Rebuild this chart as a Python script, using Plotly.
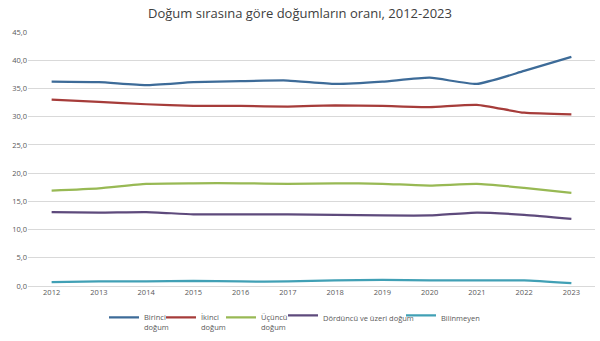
import plotly.graph_objects as go

years = [2012, 2013, 2014, 2015, 2016, 2017, 2018, 2019, 2020, 2021, 2022, 2023]

birinci = [36.2, 36.1, 35.6, 36.1, 36.3, 36.4, 35.8, 36.2, 36.9, 35.8, 38.1, 40.6]
ikinci = [33.0, 32.6, 32.2, 31.9, 31.9, 31.8, 32.0, 31.9, 31.7, 32.1, 30.7, 30.4]
ucuncu = [16.9, 17.3, 18.1, 18.2, 18.2, 18.1, 18.2, 18.1, 17.8, 18.1, 17.4, 16.5]
dorduncu = [13.1, 13.0, 13.1, 12.7, 12.7, 12.7, 12.6, 12.5, 12.5, 13.0, 12.6, 11.9]
bilinmeyen = [0.7, 0.8, 0.8, 0.9, 0.8, 0.8, 1.0, 1.1, 1.0, 1.0, 1.0, 0.5]

series = [
    ("Birinci<br>doğum", birinci, "#3d6b98"),
    ("İkinci<br>doğum", ikinci, "#a63c3a"),
    ("Üçüncü<br>doğum", ucuncu, "#98b954"),
    ("Dördüncü ve üzeri doğum", dorduncu, "#5e4a7c"),
    ("Bilinmeyen", bilinmeyen, "#41a0b5"),
]

W, H = 600, 341
ML, MR, MT, MB = 28, 5, 32, 55
plot_w = W - ML - MR
plot_h = H - MT - MB

# left edge and top (px) of each legend entry along the bottom row
legend_left_px = [104, 161, 221, 283, 401]
legend_top_px = [306, 306, 306, 304, 304]

fig = go.Figure()
legend_layouts = {}
for i, ((name, vals, color), lx, ly) in enumerate(zip(series, legend_left_px, legend_top_px)):
    key = "legend" if i == 0 else f"legend{i + 1}"
    fig.add_trace(go.Scatter(
        x=years, y=vals, name=name, mode="lines", legend=key, showlegend=True,
        line=dict(color=color, width=2.25, shape="spline", smoothing=0.5),
    ))
    legend_layouts[key] = dict(
        x=(lx - ML) / plot_w, xanchor="left",
        y=(H - MB - ly) / plot_h, yanchor="top",
        font=dict(size=7.5, color="#595959"), itemwidth=30,
        bgcolor="rgba(0,0,0,0)", valign="top",
    )

fig.update_layout(
    width=W, height=H, showlegend=True,
    margin=dict(l=ML, r=MR, t=MT, b=MB, autoexpand=False),
    paper_bgcolor="white", plot_bgcolor="white",
    separators=",.",
    font=dict(family="Open Sans, Liberation Sans, sans-serif", color="#595959"),
    title=dict(text="Doğum sırasına göre doğumların oranı, 2012-2023",
               x=0.5, xanchor="center", y=0.962, yanchor="middle",
               font=dict(size=13, color="#404040")),
    xaxis=dict(
        range=[2011.5, 2023.5], tickmode="array", tickvals=years,
        ticktext=[str(y) for y in years], showgrid=False, zeroline=False,
        showline=False, ticks="", tickfont=dict(size=7.5, color="#595959"),
    ),
    yaxis=dict(
        range=[0, 45], tickmode="array", tickvals=[0, 5, 10, 15, 20, 25, 30, 35, 40, 45],
        tickformat=".1f", showgrid=True, gridcolor="#d9d9d9", gridwidth=1,
        zeroline=True, zerolinecolor="#d9d9d9", zerolinewidth=1,
        showline=False, ticks="", tickfont=dict(size=7.5, color="#595959"),
    ),
    **legend_layouts,
)

fig.write_html("out.html")
